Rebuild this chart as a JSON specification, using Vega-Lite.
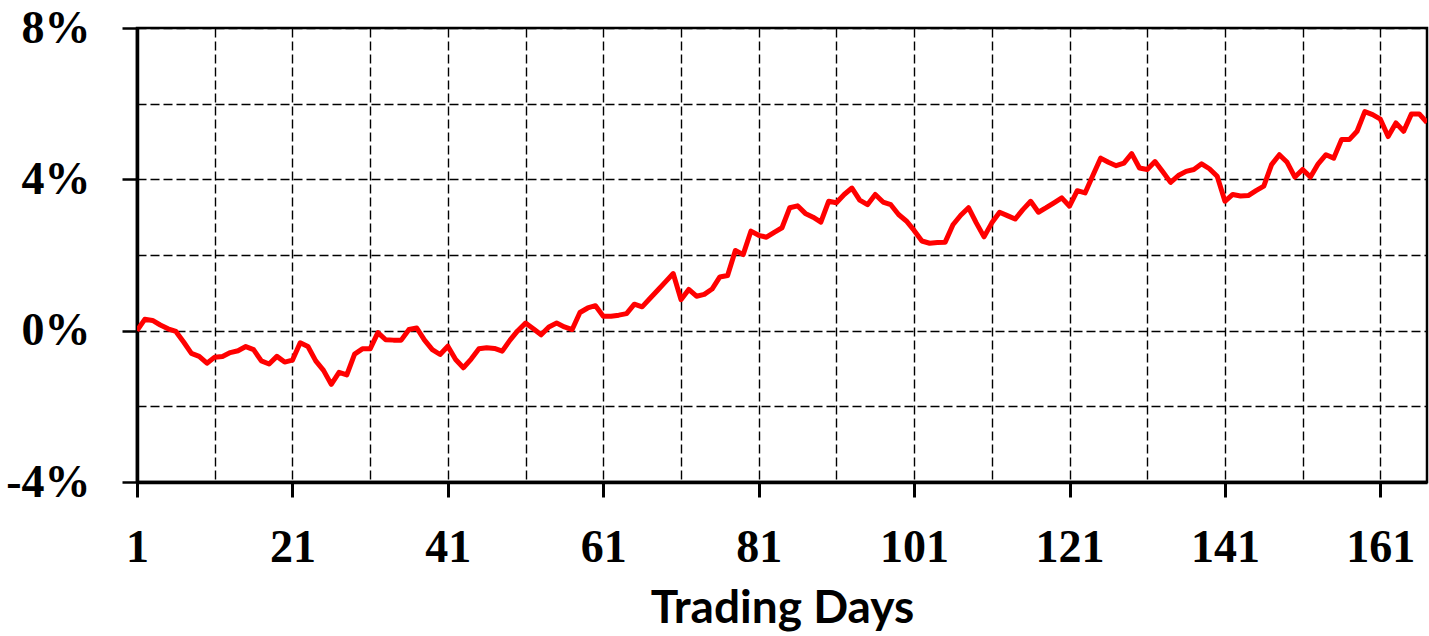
{
  "$schema": "https://vega.github.io/schema/vega-lite/v6.json",
  "autosize": {"type": "none"},
  "width": 1290,
  "height": 454,
  "padding": {"left": 137, "top": 28, "right": 2, "bottom": 154},
  "background": "white",
  "config": {
    "view": {"stroke": "black", "strokeWidth": 2.5},
    "axis": {
      "domainColor": "black",
      "domainWidth": 3.5,
      "gridColor": "black",
      "gridDash": [9, 4],
      "gridWidth": 1.4,
      "gridOpacity": 1,
      "tickColor": "black",
      "labelColor": "black",
      "labelFont": "Liberation Serif",
      "labelFontWeight": "bold",
      "labelFontSize": 46,
      "labelOverlap": false,
      "labelFlush": false,
      "labelBound": false,
      "titleColor": "black"
    }
  },
  "data": {
    "values": [
      {"day": 1, "ret": 0.00}, {"day": 2, "ret": 0.30}, {"day": 3, "ret": 0.27}, {"day": 4, "ret": 0.15}, {"day": 5, "ret": 0.05},
      {"day": 6, "ret": -0.02}, {"day": 7, "ret": -0.30}, {"day": 8, "ret": -0.60}, {"day": 9, "ret": -0.68}, {"day": 10, "ret": -0.86},
      {"day": 11, "ret": -0.70}, {"day": 12, "ret": -0.68}, {"day": 13, "ret": -0.58}, {"day": 14, "ret": -0.53}, {"day": 15, "ret": -0.42},
      {"day": 16, "ret": -0.50}, {"day": 17, "ret": -0.80}, {"day": 18, "ret": -0.88}, {"day": 19, "ret": -0.68}, {"day": 20, "ret": -0.83},
      {"day": 21, "ret": -0.78}, {"day": 22, "ret": -0.32}, {"day": 23, "ret": -0.42}, {"day": 24, "ret": -0.80}, {"day": 25, "ret": -1.05},
      {"day": 26, "ret": -1.42}, {"day": 27, "ret": -1.10}, {"day": 28, "ret": -1.17}, {"day": 29, "ret": -0.62}, {"day": 30, "ret": -0.48},
      {"day": 31, "ret": -0.48}, {"day": 32, "ret": -0.05}, {"day": 33, "ret": -0.24}, {"day": 34, "ret": -0.25}, {"day": 35, "ret": -0.25},
      {"day": 36, "ret": 0.03}, {"day": 37, "ret": 0.07}, {"day": 38, "ret": -0.25}, {"day": 39, "ret": -0.50}, {"day": 40, "ret": -0.63},
      {"day": 41, "ret": -0.41}, {"day": 42, "ret": -0.76}, {"day": 43, "ret": -0.98}, {"day": 44, "ret": -0.75}, {"day": 45, "ret": -0.48},
      {"day": 46, "ret": -0.45}, {"day": 47, "ret": -0.47}, {"day": 48, "ret": -0.54}, {"day": 49, "ret": -0.25}, {"day": 50, "ret": 0.00},
      {"day": 51, "ret": 0.20}, {"day": 52, "ret": 0.05}, {"day": 53, "ret": -0.11}, {"day": 54, "ret": 0.10}, {"day": 55, "ret": 0.20},
      {"day": 56, "ret": 0.10}, {"day": 57, "ret": 0.03}, {"day": 58, "ret": 0.48}, {"day": 59, "ret": 0.60}, {"day": 60, "ret": 0.66},
      {"day": 61, "ret": 0.38}, {"day": 62, "ret": 0.38}, {"day": 63, "ret": 0.41}, {"day": 64, "ret": 0.45}, {"day": 65, "ret": 0.70},
      {"day": 66, "ret": 0.63}, {"day": 67, "ret": 0.85}, {"day": 68, "ret": 1.07}, {"day": 69, "ret": 1.29}, {"day": 70, "ret": 1.51},
      {"day": 71, "ret": 0.82}, {"day": 72, "ret": 1.09}, {"day": 73, "ret": 0.91}, {"day": 74, "ret": 0.96}, {"day": 75, "ret": 1.10},
      {"day": 76, "ret": 1.42}, {"day": 77, "ret": 1.46}, {"day": 78, "ret": 2.12}, {"day": 79, "ret": 2.01}, {"day": 80, "ret": 2.63},
      {"day": 81, "ret": 2.52}, {"day": 82, "ret": 2.47}, {"day": 83, "ret": 2.60}, {"day": 84, "ret": 2.72}, {"day": 85, "ret": 3.25},
      {"day": 86, "ret": 3.30}, {"day": 87, "ret": 3.10}, {"day": 88, "ret": 3.00}, {"day": 89, "ret": 2.87}, {"day": 90, "ret": 3.42},
      {"day": 91, "ret": 3.38}, {"day": 92, "ret": 3.60}, {"day": 93, "ret": 3.77}, {"day": 94, "ret": 3.45}, {"day": 95, "ret": 3.33},
      {"day": 96, "ret": 3.60}, {"day": 97, "ret": 3.40}, {"day": 98, "ret": 3.33}, {"day": 99, "ret": 3.07}, {"day": 100, "ret": 2.90},
      {"day": 101, "ret": 2.65}, {"day": 102, "ret": 2.37}, {"day": 103, "ret": 2.31}, {"day": 104, "ret": 2.33}, {"day": 105, "ret": 2.34},
      {"day": 106, "ret": 2.80}, {"day": 107, "ret": 3.05}, {"day": 108, "ret": 3.25}, {"day": 109, "ret": 2.85}, {"day": 110, "ret": 2.48},
      {"day": 111, "ret": 2.85}, {"day": 112, "ret": 3.13}, {"day": 113, "ret": 3.04}, {"day": 114, "ret": 2.95}, {"day": 115, "ret": 3.20},
      {"day": 116, "ret": 3.42}, {"day": 117, "ret": 3.13}, {"day": 118, "ret": 3.25}, {"day": 119, "ret": 3.38}, {"day": 120, "ret": 3.51},
      {"day": 121, "ret": 3.29}, {"day": 122, "ret": 3.70}, {"day": 123, "ret": 3.64}, {"day": 124, "ret": 4.10}, {"day": 125, "ret": 4.56},
      {"day": 126, "ret": 4.45}, {"day": 127, "ret": 4.36}, {"day": 128, "ret": 4.43}, {"day": 129, "ret": 4.68}, {"day": 130, "ret": 4.30},
      {"day": 131, "ret": 4.26}, {"day": 132, "ret": 4.47}, {"day": 133, "ret": 4.20}, {"day": 134, "ret": 3.92}, {"day": 135, "ret": 4.10},
      {"day": 136, "ret": 4.21}, {"day": 137, "ret": 4.26}, {"day": 138, "ret": 4.41}, {"day": 139, "ret": 4.28}, {"day": 140, "ret": 4.08},
      {"day": 141, "ret": 3.42}, {"day": 142, "ret": 3.60}, {"day": 143, "ret": 3.56}, {"day": 144, "ret": 3.57}, {"day": 145, "ret": 3.70},
      {"day": 146, "ret": 3.82}, {"day": 147, "ret": 4.39}, {"day": 148, "ret": 4.65}, {"day": 149, "ret": 4.45}, {"day": 150, "ret": 4.06},
      {"day": 151, "ret": 4.26}, {"day": 152, "ret": 4.06}, {"day": 153, "ret": 4.41}, {"day": 154, "ret": 4.65}, {"day": 155, "ret": 4.56},
      {"day": 156, "ret": 5.05}, {"day": 157, "ret": 5.05}, {"day": 158, "ret": 5.27}, {"day": 159, "ret": 5.79}, {"day": 160, "ret": 5.71},
      {"day": 161, "ret": 5.59}, {"day": 162, "ret": 5.13}, {"day": 163, "ret": 5.49}, {"day": 164, "ret": 5.27}, {"day": 165, "ret": 5.73},
      {"day": 166, "ret": 5.73}, {"day": 167, "ret": 5.50}
    ]
  },
  "mark": {"type": "line", "color": "#FF0000", "strokeWidth": 5, "strokeJoin": "round", "clip": true},
  "encoding": {
    "x": {
      "field": "day",
      "type": "quantitative",
      "scale": {"domain": [1, 167], "nice": false, "zero": false},
      "axis": {
        "values": [1, 11, 21, 31, 41, 51, 61, 71, 81, 91, 101, 111, 121, 131, 141, 151, 161],
        "labelExpr": "(datum.value - 1) % 20 == 0 ? datum.value : ''",
        "tickSize": 15,
        "tickWidth": 3,
        "tickOpacity": {"condition": {"test": "(datum.value - 1) % 20 == 0", "value": 1}, "value": 0},
        "labelPadding": 28,
        "title": "Trading Days",
        "titleFont": "Lato",
        "titleFontWeight": "bold",
        "titleFontSize": 46,
        "titlePadding": 16
      }
    },
    "y": {
      "field": "ret",
      "type": "quantitative",
      "scale": {"domain": [-4, 8], "nice": false, "zero": false},
      "axis": {
        "values": [-4, -2, 0, 2, 4, 6, 8],
        "labelExpr": "datum.value % 4 == 0 ? datum.value + '%' : ''",
        "tickSize": 15,
        "tickWidth": 2.5,
        "tickOpacity": {"condition": {"test": "datum.value % 4 == 0", "value": 1}, "value": 0},
        "labelPadding": 32,
        "title": null
      }
    }
  }
}
